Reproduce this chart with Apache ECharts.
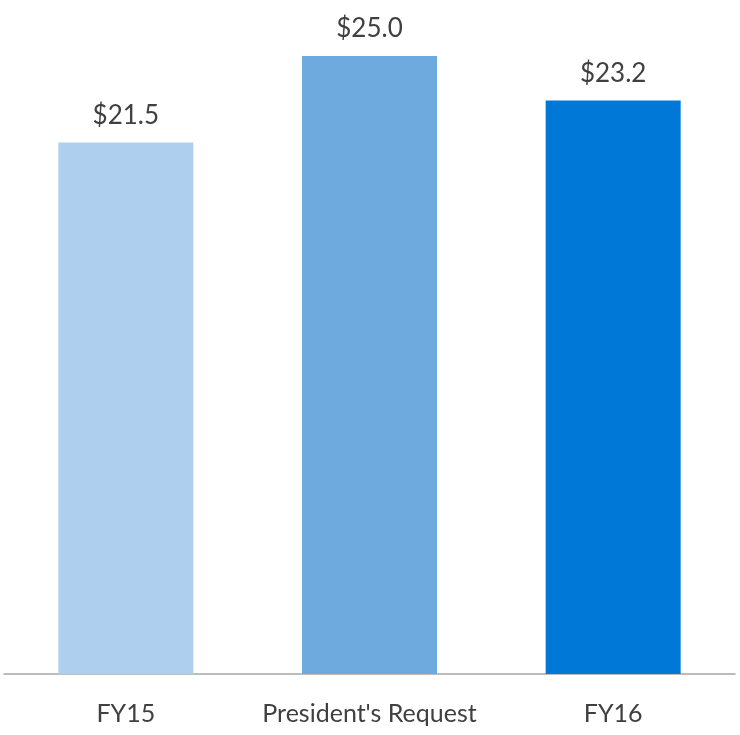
<!DOCTYPE html>
<html>
<head>
<meta charset="utf-8">
<script src="https://cdn.jsdelivr.net/npm/echarts@6/dist/echarts.min.js"></script>
<style>
html,body{margin:0;padding:0;background:#fff;}
#chart{width:740px;height:735px;}
</style>
</head>
<body>
<div id="chart"></div>
<script>
const categories = ["FY15", "President's Request", "FY16"];
const values = [21.5, 25.0, 23.2];
const barColors = ["#AFCFEE", "#6FAADF", "#0078D7"];

const chart = echarts.init(document.getElementById('chart'), null, {renderer: 'canvas'});
chart.setOption({
  animation: false,
  grid: {left: 4, right: 5, top: 56, bottom: 61, containLabel: false},
  xAxis: {
    type: 'category',
    data: categories,
    axisLine: {show: true, lineStyle: {color: '#A6A6A6', width: 1.5}},
    axisTick: {show: false},
    axisLabel: {color: '#404040', fontFamily: 'Lato', fontSize: 25, margin: 27, interval: 0, hideOverlap: false}
  },
  yAxis: {
    type: 'value',
    min: 0,
    max: 25,
    show: false,
    splitLine: {show: false}
  },
  series: [{
    type: 'bar',
    barWidth: 135,
    data: values.map((v, i) => ({value: v, itemStyle: {color: barColors[i]}})),
    label: {
      show: true,
      position: 'top',
      distance: 14,
      color: '#404040',
      fontFamily: 'Lato',
      fontSize: 26,
      formatter: p => '$' + p.value.toFixed(1)
    }
  }]
});
</script>
</body>
</html>
